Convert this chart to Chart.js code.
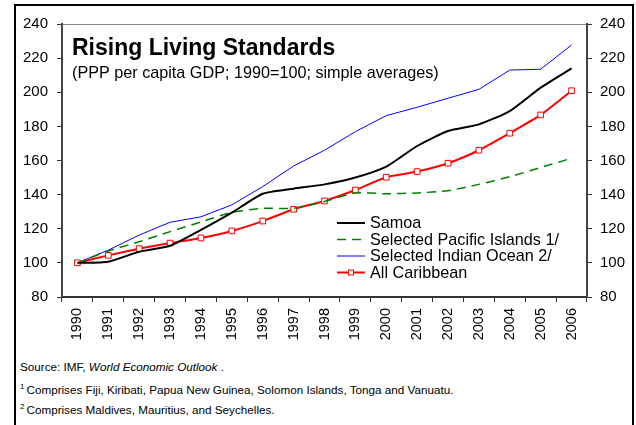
<!DOCTYPE html>
<html>
<head>
<meta charset="utf-8">
<script src="https://cdn.jsdelivr.net/npm/chart.js@4.4.0/dist/chart.umd.min.js"></script>
<style>
  body { margin: 0; background: #fff; font-family: "Liberation Sans", Arial, sans-serif; }
  #wrap { position: relative; width: 636px; height: 425px; overflow: hidden; }
  #frame { position: absolute; left: 14px; top: 4px; width: 620px; height: 460px;
           border: 2px solid #000; box-sizing: border-box; }
  #box { position: absolute; left: 0; top: 0; width: 636px; height: 355px; }
  .note { position: absolute; left: 20px; font-size: 11.7px; line-height: 12px; color: #000; white-space: nowrap; }
  .note sup { font-size: 8px; vertical-align: 5px; line-height: 0; margin-right: 2px; }
</style>
</head>
<body>
<div id="wrap">
  <div id="frame"></div>
  <div id="box"><canvas id="riskChart"></canvas></div>
  <div class="note" style="top:361px">Source: IMF, <i>World Economic Outlook</i> .</div>
  <div class="note" style="top:384px"><sup>1</sup>Comprises Fiji, Kiribati, Papua New Guinea, Solomon Islands, Tonga and Vanuatu.</div>
  <div class="note" style="top:404px"><sup>2</sup>Comprises Maldives, Mauritius, and Seychelles.</div>
</div>
<script>
const years = ['1990', '1991', '1992', '1993', '1994', '1995', '1996', '1997', '1998',
               '1999', '2000', '2001', '2002', '2003', '2004', '2005', '2006'];
const samoa     = [100, 100.7, 106.5, 110, 119.3, 129.4, 140.5, 143.5, 146, 150, 156.4, 168.5, 177.3, 181.2, 189, 202.7, 214];
const pacific   = [100, 107, 112.4, 118.3, 124, 129.6, 132, 132, 136, 141, 140.5, 141, 142.3, 146, 150.5, 155.9, 161.3];
const indian    = [100, 107.5, 116.3, 123.8, 127, 134, 144.7, 156.8, 166, 176.9, 186.3, 191.2, 196.5, 201.7, 213, 213.5, 227.7];
const caribbean = [100, 104.4, 108.3, 111.6, 114.6, 118.7, 124.5, 131.4, 136.3, 142.7, 150.2, 153.5, 158.4, 166, 176, 186.7, 200.9];
const yMin = 80, yMax = 240, yStep = 20;

const titleText = 'Rising Living Standards';
const subtitleText = '(PPP per capita GDP; 1990=100; simple averages)';

Chart.defaults.font.family = '"Liberation Sans", Arial, sans-serif';
Chart.defaults.color = '#000';

// plot-area border, title block and in-plot legend
const decor = {
    id: 'decor',
    beforeDraw(chart) {
        const { ctx, chartArea: a } = chart;
        ctx.save();
        ctx.strokeStyle = '#8a8a8a';
        ctx.lineWidth = 1;
        ctx.strokeRect(a.left + 0.5, a.top + 0.5, a.width, a.height);
        ctx.restore();
    },
    afterDraw(chart) {
        const ctx = chart.ctx;
        ctx.save();
        ctx.fillStyle = '#000';
        ctx.textBaseline = 'alphabetic';
        ctx.font = 'bold 23px "Liberation Sans", Arial, sans-serif';
        ctx.fillText(titleText, 72, 55);
        ctx.font = '16.2px "Liberation Sans", Arial, sans-serif';
        ctx.fillText(subtitleText, 72, 78);

        ctx.font = '16.2px "Liberation Sans", Arial, sans-serif';
        ctx.textBaseline = 'middle';
        chart.data.datasets.forEach(function (ds, i) {
            const y = 223 + i * 16.5;
            ctx.strokeStyle = ds.borderColor;
            ctx.lineWidth = ds.borderWidth;
            ctx.setLineDash(ds.borderDash || []);
            ctx.beginPath();
            ctx.moveTo(337, y);
            ctx.lineTo(365, y);
            ctx.stroke();
            ctx.setLineDash([]);
            if (ds.pointRadius > 0) {
                ctx.fillStyle = ds.pointBackgroundColor;
                ctx.fillRect(348, y - 3, 6, 6);
                ctx.lineWidth = 1;
                ctx.strokeRect(348.5, y - 2.5, 5, 5);
            }
            ctx.fillStyle = '#000';
            ctx.fillText(ds.label, 370, y + 1);
        });
        ctx.restore();
    }
};

const canvas = document.getElementById('riskChart');
const ctx = canvas.getContext('2d');

new Chart(ctx, {
    type: 'line',
    data: {
        labels: years,
        datasets: [
            {
                label: 'Samoa',
                data: samoa,
                borderColor: '#000000',
                borderWidth: 2,
                pointRadius: 0,
                tension: 0.2
            },
            {
                label: 'Selected Pacific Islands 1/',
                data: pacific,
                borderColor: '#008000',
                borderWidth: 1.5,
                borderDash: [9, 6],
                pointRadius: 0,
                tension: 0.2
            },
            {
                label: 'Selected Indian Ocean 2/',
                data: indian,
                borderColor: '#0000ff',
                borderWidth: 1,
                pointRadius: 0,
                tension: 0
            },
            {
                label: 'All Caribbean',
                data: caribbean,
                borderColor: '#ff0000',
                borderWidth: 2,
                pointStyle: 'rect',
                pointRadius: 4,
                pointBorderWidth: 1,
                pointBorderColor: '#ff0000',
                pointBackgroundColor: '#ffffff',
                tension: 0.2
            }
        ]
    },
    options: {
        responsive: true,
        maintainAspectRatio: false,
        animation: false,
        layout: { padding: { top: 24, left: 0, right: 0, bottom: 0 } },
        plugins: {
            legend: { display: false },
            title: { display: false },
            tooltip: { enabled: false }
        },
        scales: {
            x: {
                type: 'category',
                offset: true,
                grid: { offset: true, drawOnChartArea: false, tickLength: 5, color: '#333' },
                border: { color: '#333', width: 2 },
                ticks: { minRotation: 90, maxRotation: 90, autoSkip: false, padding: 6,
                         font: { size: 14.5 } },
                afterFit: function (s) { s.height = 58; }
            },
            y: {
                position: 'left',
                min: yMin, max: yMax,
                grid: { drawOnChartArea: false, tickLength: 5, color: '#333' },
                border: { color: '#444', width: 2 },
                ticks: { stepSize: yStep, padding: 9, font: { size: 15 } },
                afterFit: function (s) { s.width = 62; }
            },
            y2: {
                position: 'right',
                min: yMin, max: yMax,
                grid: { drawOnChartArea: false, tickLength: 5, color: '#333' },
                border: { color: '#444', width: 2 },
                ticks: { stepSize: yStep, padding: 8, font: { size: 15 } },
                afterFit: function (s) { s.width = 49; }
            }
        }
    },
    plugins: [decor]
});
</script>
</body>
</html>
